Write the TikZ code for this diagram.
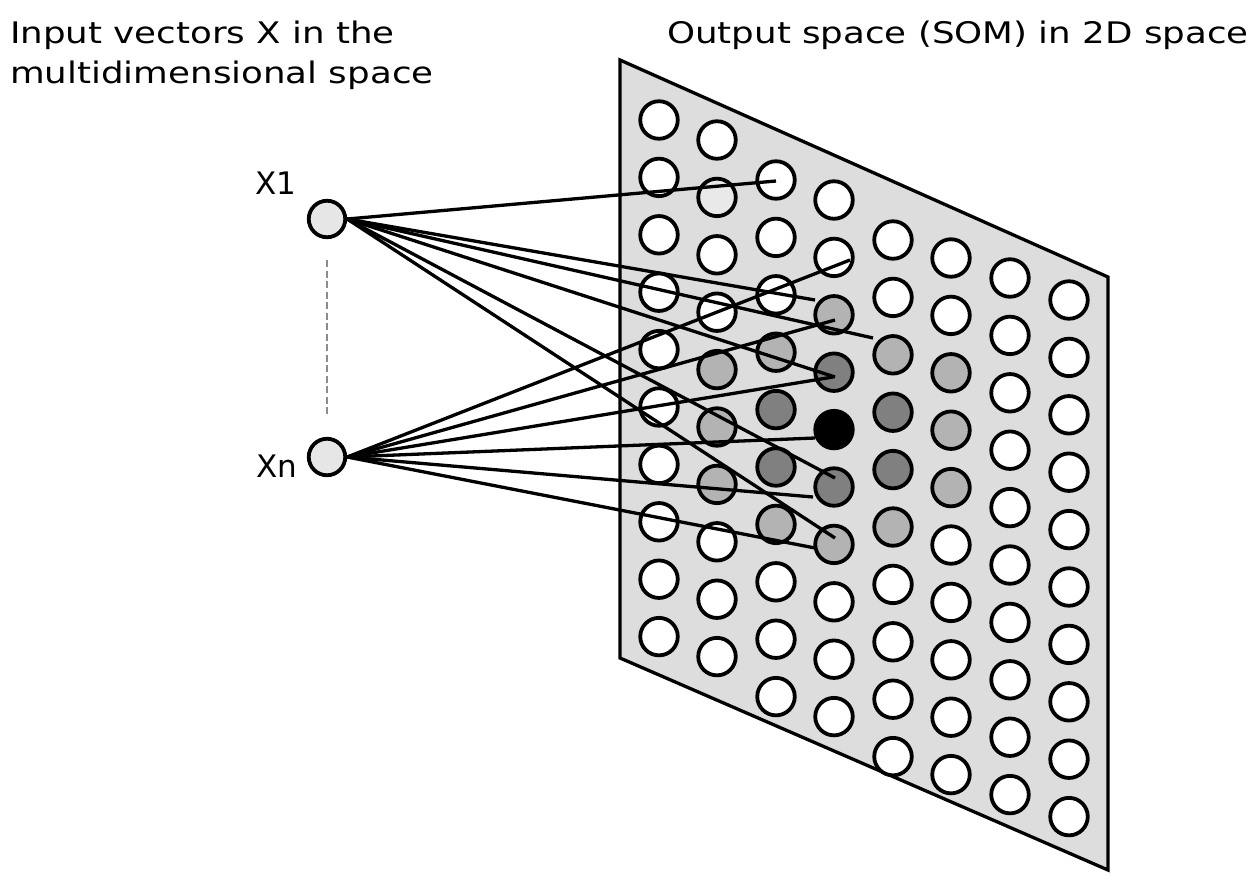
\documentclass[tikz,border=0pt]{standalone}
\usepackage{fontspec}
\setmainfont{DejaVu Sans}[FakeStretch=1.2]
\newfontfamily\lblfont{DejaVu Sans}
\definecolor{planegray}{HTML}{DDDDDD}
\definecolor{lightgray}{HTML}{B3B3B3}
\definecolor{darkgray}{HTML}{808080}
\definecolor{palegray}{HTML}{E9E9E9}
\definecolor{inputgray}{HTML}{E6E6E6}
\definecolor{dashgray}{HTML}{8C8C8C}
\newcommand\fillfor[2]{\ifcsname fc-#1-#2\endcsname\csname fc-#1-#2\endcsname\else white\fi}
\expandafter\def\csname fc-2-1\endcsname{palegray}
\expandafter\def\csname fc-2-4\endcsname{lightgray}
\expandafter\def\csname fc-2-5\endcsname{lightgray}
\expandafter\def\csname fc-2-6\endcsname{lightgray}
\expandafter\def\csname fc-3-3\endcsname{lightgray}
\expandafter\def\csname fc-3-4\endcsname{darkgray}
\expandafter\def\csname fc-3-5\endcsname{darkgray}
\expandafter\def\csname fc-3-6\endcsname{lightgray}
\expandafter\def\csname fc-4-2\endcsname{lightgray}
\expandafter\def\csname fc-4-3\endcsname{darkgray}
\expandafter\def\csname fc-4-4\endcsname{black}
\expandafter\def\csname fc-4-5\endcsname{darkgray}
\expandafter\def\csname fc-4-6\endcsname{lightgray}
\expandafter\def\csname fc-5-2\endcsname{lightgray}
\expandafter\def\csname fc-5-3\endcsname{darkgray}
\expandafter\def\csname fc-5-4\endcsname{darkgray}
\expandafter\def\csname fc-5-5\endcsname{lightgray}
\expandafter\def\csname fc-6-2\endcsname{lightgray}
\expandafter\def\csname fc-6-3\endcsname{lightgray}
\expandafter\def\csname fc-6-4\endcsname{lightgray}
\tikzset{
  somplane/.style={draw=black, line width=3.3pt, fill=planegray, line join=miter},
  unit/.style={circle, draw=black, line width=3.8pt, minimum size=37.5pt, inner sep=0pt},
  inputunit/.style={circle, draw=black, line width=3.8pt, minimum size=36.5pt, inner sep=0pt, fill=inputgray},
  conn/.style={draw=black, line width=3.3pt},
  dashline/.style={draw=dashgray, line width=2.2pt, dash pattern=on 7pt off 3.5pt},
  ttl/.style={inner sep=0pt, font=\fontsize{29.7pt}{36pt}\selectfont},
  lbl/.style={inner sep=0pt, font=\lblfont\fontsize{31pt}{36pt}\selectfont},
}
\begin{document}
\begin{tikzpicture}[x=1pt,y=-1pt]
\useasboundingbox (0,0) rectangle (1256,876);
% SOM plane
\draw[somplane] (620,60) -- (1108,277) -- (1108,870) -- (620,658) -- cycle;
% grid of units
\foreach \c/\x/\y in {1/659/120, 2/717/140, 3/776/180, 4/834/200, 5/893/240, 6/951/258, 7/1010/278, 8/1069/300} {
  \foreach \r in {0,...,9} {
    \edef\fc{\fillfor{\c}{\r}}
    \node[unit, fill=\fc] (u-\c-\r) at ({\x},{\y+57.4*\r}) {};
  }
}
% input units
\node[inputunit] (x1) at (327,219) {};
\node[inputunit] (xn) at (327,457) {};
\node[lbl] (x1lbl) at (276,183) {X1};
\node[lbl] (xnlbl) at (277,466) {Xn};
\draw[dashline] ([yshift=-21pt]x1.south) -- ([yshift=21pt]xn.north);
% connector end points
\coordinate (a1) at (776,181);
\coordinate (a2) at (815,300);
\coordinate (a3) at (873,338);
\coordinate (a4) at (835,377);
\coordinate (a5) at (835,478);
\coordinate (a6) at (835,538);
\coordinate (b1) at (850,260);
\coordinate (b2) at (835,320);
\coordinate (b3) at (833,377);
\coordinate (b4) at (815,438);
\coordinate (b5) at (813,497);
\coordinate (b6) at (815,548);
\foreach \t in {a1,a2,a3,a4,a5,a6} { \draw[conn] (x1.east) -- (\t); }
\foreach \t in {b1,b2,b3,b4,b5,b6} { \draw[conn] (xn.east) -- (\t); }
% titles
\node[ttl, anchor=base west] (tA) at (10,43) {Input vectors X in the};
\node[ttl, anchor=base west] (tB) at (10,83) {multidimensional space};
\node[ttl, anchor=base west] (tC) at (667,43) {Output space (SOM) in 2D space};
\end{tikzpicture}
\end{document}
